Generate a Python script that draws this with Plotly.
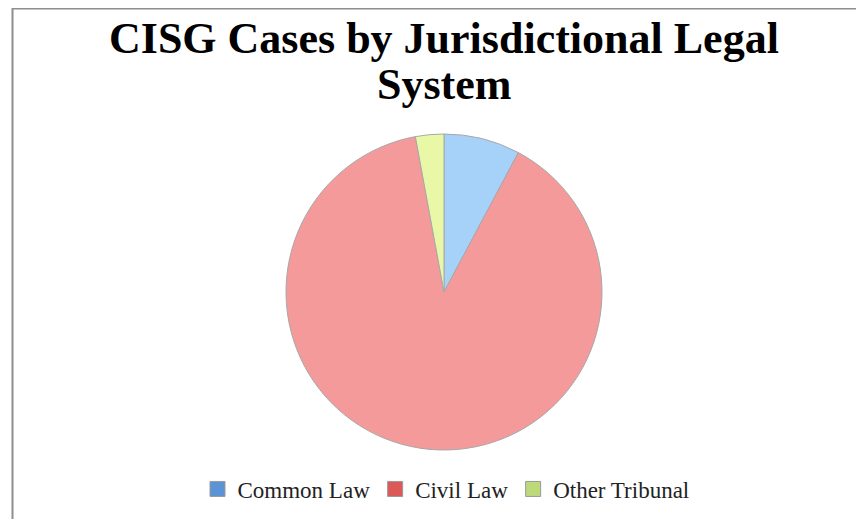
import plotly.graph_objects as go

categories = ["Common Law", "Civil Law", "Other Tribunal"]
shares = [7.8, 89.3, 2.9]
slice_colors = ["#A6D2FA", "#F49A9A", "#E8F8A6"]
legend_colors = ["#5A93D6", "#DB5A57", "#BCDA7A"]
title_lines = ["CISG Cases by Jurisdictional Legal", "System"]

OFF = 8  # browser body margin
W, H = 864 - OFF, 519 - OFF
cx, cy, r = 444 - OFF, 292 - OFF, 158

fig = go.Figure()
fig.add_trace(go.Pie(
    labels=categories, values=shares, sort=False, direction="clockwise", rotation=0,
    marker=dict(colors=slice_colors, line=dict(color="#A8A8A8", width=1)),
    textinfo="none", hoverinfo="label+percent", showlegend=False,
    domain=dict(x=[(cx - r) / W, (cx + r) / W], y=[1 - (cy + r) / H, 1 - (cy - r) / H]),
))
for name, col in zip(categories, legend_colors):
    fig.add_trace(go.Scatter(
        x=[None], y=[None], mode="markers", name=name,
        marker=dict(symbol="square", size=15, color=col, line=dict(color="#9A9A9A", width=1)),
    ))

annotations = []
for line, yc in zip(title_lines, [38, 84]):
    annotations.append(dict(
        text="<b>" + line + "</b>",
        x=(444 - OFF) / W, y=1 - (yc - OFF) / H, xref="paper", yref="paper",
        xanchor="center", yanchor="middle", showarrow=False,
        font=dict(family="Liberation Serif", size=44, color="black"),
    ))

fig.update_layout(
    width=W, height=H,
    margin=dict(l=0, r=0, t=0, b=0),
    paper_bgcolor="white", plot_bgcolor="white",
    xaxis=dict(visible=False), yaxis=dict(visible=False),
    annotations=annotations,
    legend=dict(
        orientation="h", x=(446 - OFF) / W, xanchor="center", y=1 - (489 - OFF) / H, yanchor="middle",
        font=dict(family="Liberation Serif, Times New Roman, serif", size=23, color="#222"),
        itemwidth=30, tracegroupgap=0, bgcolor="rgba(0,0,0,0)",
    ),
    shapes=[dict(
        type="rect", xref="paper", yref="paper",
        x0=(12.5 - OFF) / W, x1=1.05, y0=-0.05, y1=1 - 0.5 / H,
        line=dict(color="#8E8E8E", width=2), fillcolor="rgba(0,0,0,0)", layer="below",
    )],
)

fig.write_html("out.html")
